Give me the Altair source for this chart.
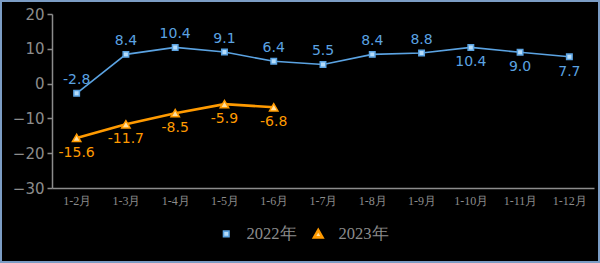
import altair as alt
import pandas as pd

months = ["1-2月", "1-3月", "1-4月", "1-5月", "1-6月", "1-7月", "1-8月",
          "1-9月", "1-10月", "1-11月", "1-12月"]
v2022 = [-2.8, 8.4, 10.4, 9.1, 6.4, 5.5, 8.4, 8.8, 10.4, 9.0, 7.7]
v2023 = [-15.6, -11.7, -8.5, -5.9, -6.8]
pos2022 = ["above"] * 8 + ["below"] * 3
pos2023 = ["below"] * 5
series = ["2022年", "2023年"]

rows = []
for m, v, p in zip(months, v2022, pos2022):
    rows.append({"month": m, "value": v, "series": series[0], "pos": p, "label": f"{v:.1f}"})
for m, v, p in zip(months, v2023, pos2023):
    rows.append({"month": m, "value": v, "series": series[1], "pos": p, "label": f"{v:.1f}"})
df = pd.DataFrame(rows)

BLUE = "#5ba3e2"
ORANGE = "#ff9a00"
GRAY = "#8c8c8c"

x = alt.X("month:N", sort=months, title=None,
          scale=alt.Scale(type="point", padding=0.5),
          axis=alt.Axis(labelAngle=0, ticks=False, labelFont="Liberation Serif",
                        labelFontSize=12, labelColor=GRAY, labelPadding=7,
                        domainColor=GRAY, domainWidth=1.5))
y = alt.Y("value:Q", title=None,
          scale=alt.Scale(domain=[-30, 20], nice=False, zero=False),
          axis=alt.Axis(values=[-30, -20, -10, 0, 10, 20], grid=False,
                        tickSize=5, tickColor=GRAY, tickWidth=1.5,
                        domainColor=GRAY, domainWidth=1.5,
                        labelFont="DejaVu Sans", labelFontSize=15,
                        labelColor=GRAY, labelPadding=3))

base = alt.Chart(df).encode(x=x, y=y)

color_scale = alt.Scale(domain=series, range=[BLUE, ORANGE])

legend = alt.Legend(title=None, orient="none", legendX=166, legendY=211,
                    direction="horizontal", labelFont="Liberation Serif",
                    labelFontSize=16.5, labelColor=GRAY, symbolSize=50,
                    columnPadding=11, labelOffset=12, symbolStrokeWidth=1.5)

lines = base.mark_line().encode(
    stroke=alt.Stroke("series:N", scale=color_scale, legend=legend),
    strokeWidth=alt.StrokeWidth("series:N", scale=alt.Scale(domain=series, range=[1.6, 2.6]), legend=None),
)

points = base.mark_point(filled=True, strokeWidth=1.5, opacity=1).encode(
    shape=alt.Shape("series:N", scale=alt.Scale(domain=series, range=["square", "triangle-up"]), legend=legend),
    fill=alt.Fill("series:N", scale=alt.Scale(domain=series, range=["#b5dcfa", "#ffe0a0"]), legend=legend),
    stroke=alt.Stroke("series:N", scale=color_scale, legend=legend),
    size=alt.Size("series:N", scale=alt.Scale(domain=series, range=[30, 70]), legend=None),
)

def text_layer(ser, pos, dy, col):
    return base.transform_filter(
        (alt.datum.pos == pos) & (alt.datum.series == ser)
    ).mark_text(dy=dy, fontSize=14, font="DejaVu Sans", color=col).encode(text="label:N")

t1 = text_layer(series[0], "above", -13, BLUE)
t2 = text_layer(series[0], "below", 15, BLUE)
t3 = text_layer(series[1], "below", 15, ORANGE)

frame = alt.Chart(pd.DataFrame({"a": [0]})).mark_rect(
    fill=None, stroke="#7b9cc4", strokeWidth=2).encode(
    x=alt.value(-51), x2=alt.value(547), y=alt.value(-13), y2=alt.value(248))

chart = alt.layer(lines, points, t1, t2, t3, frame).properties(
    width=542, height=174,
    autosize=alt.AutoSizeParams(type="none"),
    padding={"left": 52, "top": 14, "right": 6, "bottom": 75},
    background="#000000",
).configure_view(stroke=None)

chart.save("out.html", embed_options={"renderer": "svg", "actions": False})
